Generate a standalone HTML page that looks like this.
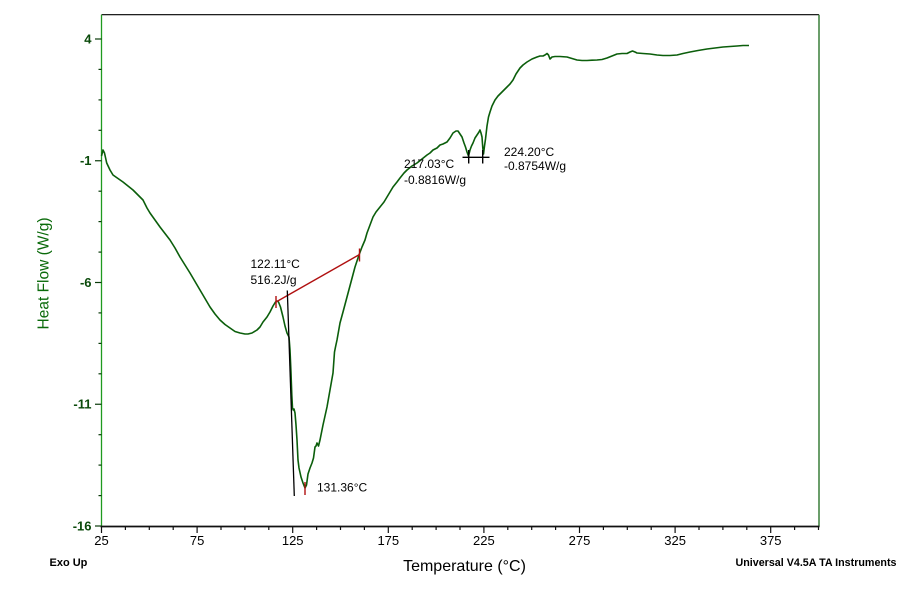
<!DOCTYPE html>
<html>
<head>
<meta charset="utf-8">
<style>
html,body{margin:0;padding:0;background:#fff;}
svg{display:block;}
text{font-family:"Liberation Sans",Arial,sans-serif;}
</style>
</head>
<body>
<svg width="904" height="594" viewBox="0 0 904 594" xmlns="http://www.w3.org/2000/svg">
<rect width="904" height="594" fill="#fff"/>
<!-- axes -->
<line x1="101.5" y1="14.7" x2="819" y2="14.7" stroke="#000" stroke-width="1.2"/>
<line x1="819" y1="14.7" x2="819" y2="526.5" stroke="#3a7f3a" stroke-width="1.5"/>
<line x1="101.5" y1="14.7" x2="101.5" y2="526.5" stroke="#1f9a1f" stroke-width="1.3"/>
<line x1="100.5" y1="526.5" x2="819.5" y2="526.5" stroke="#111" stroke-width="1.8"/>
<!-- y ticks -->
<g stroke="#0a3a0a" stroke-width="1.2">
<line x1="95" y1="39" x2="101.5" y2="39"/>
<line x1="95" y1="160.75" x2="101.5" y2="160.75"/>
<line x1="95" y1="282.5" x2="101.5" y2="282.5"/>
<line x1="95" y1="404.25" x2="101.5" y2="404.25"/>
<line x1="95" y1="526" x2="101.5" y2="526"/>
<line x1="98.5" y1="69.4" x2="101.5" y2="69.4"/>
<line x1="98.5" y1="99.9" x2="101.5" y2="99.9"/>
<line x1="98.5" y1="130.3" x2="101.5" y2="130.3"/>
<line x1="98.5" y1="191.2" x2="101.5" y2="191.2"/>
<line x1="98.5" y1="221.6" x2="101.5" y2="221.6"/>
<line x1="98.5" y1="252.1" x2="101.5" y2="252.1"/>
<line x1="98.5" y1="312.9" x2="101.5" y2="312.9"/>
<line x1="98.5" y1="343.4" x2="101.5" y2="343.4"/>
<line x1="98.5" y1="373.8" x2="101.5" y2="373.8"/>
<line x1="98.5" y1="434.7" x2="101.5" y2="434.7"/>
<line x1="98.5" y1="465.1" x2="101.5" y2="465.1"/>
<line x1="98.5" y1="495.6" x2="101.5" y2="495.6"/>
</g>
<!-- x ticks -->
<g stroke="#111" stroke-width="1.2">
<line x1="101.5" y1="526" x2="101.5" y2="533"/>
<line x1="197.1" y1="526" x2="197.1" y2="533"/>
<line x1="292.7" y1="526" x2="292.7" y2="533"/>
<line x1="388.3" y1="526" x2="388.3" y2="533"/>
<line x1="483.9" y1="526" x2="483.9" y2="533"/>
<line x1="579.5" y1="526" x2="579.5" y2="533"/>
<line x1="675.1" y1="526" x2="675.1" y2="533"/>
<line x1="770.7" y1="526" x2="770.7" y2="533"/>
<line x1="125.4" y1="526" x2="125.4" y2="530"/>
<line x1="149.3" y1="526" x2="149.3" y2="530"/>
<line x1="173.2" y1="526" x2="173.2" y2="530"/>
<line x1="221.0" y1="526" x2="221.0" y2="530"/>
<line x1="244.9" y1="526" x2="244.9" y2="530"/>
<line x1="268.8" y1="526" x2="268.8" y2="530"/>
<line x1="316.6" y1="526" x2="316.6" y2="530"/>
<line x1="340.5" y1="526" x2="340.5" y2="530"/>
<line x1="364.4" y1="526" x2="364.4" y2="530"/>
<line x1="412.2" y1="526" x2="412.2" y2="530"/>
<line x1="436.1" y1="526" x2="436.1" y2="530"/>
<line x1="460.0" y1="526" x2="460.0" y2="530"/>
<line x1="507.8" y1="526" x2="507.8" y2="530"/>
<line x1="531.7" y1="526" x2="531.7" y2="530"/>
<line x1="555.6" y1="526" x2="555.6" y2="530"/>
<line x1="603.4" y1="526" x2="603.4" y2="530"/>
<line x1="627.3" y1="526" x2="627.3" y2="530"/>
<line x1="651.2" y1="526" x2="651.2" y2="530"/>
<line x1="699.0" y1="526" x2="699.0" y2="530"/>
<line x1="722.9" y1="526" x2="722.9" y2="530"/>
<line x1="746.8" y1="526" x2="746.8" y2="530"/>
<line x1="794.6" y1="526" x2="794.6" y2="530"/>
<line x1="818.5" y1="526" x2="818.5" y2="530"/>
</g>
<!-- y tick labels -->
<g fill="#0a4a0a" font-size="13" text-anchor="end" font-weight="bold">
<text x="91.5" y="43.5">4</text>
<text x="91.5" y="165.2">-1</text>
<text x="91.5" y="287">-6</text>
<text x="91.5" y="408.7">-11</text>
<text x="91.5" y="530.5">-16</text>
</g>
<!-- x tick labels -->
<g fill="#000" font-size="13" text-anchor="middle">
<text x="101.5" y="545">25</text>
<text x="197.1" y="545">75</text>
<text x="292.7" y="545">125</text>
<text x="388.3" y="545">175</text>
<text x="483.9" y="545">225</text>
<text x="579.5" y="545">275</text>
<text x="675.1" y="545">325</text>
<text x="770.7" y="545">375</text>
</g>
<!-- axis titles -->
<text x="464.5" y="571" font-size="16" text-anchor="middle" fill="#000">Temperature (°C)</text>
<text transform="translate(48.5,273.5) rotate(-90)" font-size="15.5" text-anchor="middle" fill="#0a6a0a">Heat Flow (W/g)</text>
<text x="49.5" y="566" font-size="11" font-weight="bold" fill="#000">Exo Up</text>
<text x="735.5" y="566" font-size="11" font-weight="bold" fill="#000" textLength="161" lengthAdjust="spacingAndGlyphs">Universal V4.5A TA Instruments</text>
<!-- curve -->
<polyline fill="none" stroke="#0b5e0b" stroke-width="1.6" stroke-linejoin="round" points="
101.5,156 103,150 104.5,153 106.7,163 110,170 113,175 118,178.5 123,182 128,186 133,190 138,195 143,200 147,208 150,213 155,220 160,227 165,233.5 170,240 175,248 180,257 185,265 190,273 195,281.5 200,290 205,298.5 210,307 215,314 220,320 225,324.5 230,328 235,331.5 240,333 245,334 248,334 252,333 257,330 260,327 263,322 267,317 270,312 273,306 275.5,302 277,301 278.5,302 280.5,307 283,317 285,326 287,333 289,337 290,350 291,373 291.8,395 292.5,408 293.2,410 294,409 295,413 296,425 297,440 298,460 299,468 301,477 303,483 305,488 306.5,485 308,474 310,468 312,463 313.5,458 315,447 316,446 317,443 318.5,446 320,440 323,425 327,407 330,390 333,373 334.5,352 335.5,347 337,340 340,323 343,312 347,297 351,282 355,267 359,255 362,247 365,240 367,233 370,225 373,217 376,212 380,207 384,202 387,197 390,192 393,187 397,182 400,178 404,173 407,170 412,166 417,163 422,159 427,155 430,153 433,150 437,148 440,145 443,144 447,142 450,138 453,133 456,131 458,131 460,134 462,137 464,143 465.5,147 467,152 468.5,156 470,150 471.5,146 473,143 475,138 477,135 479,132 480,130 481,133 482,137 482.8,148 483.5,154 484.5,146 485.5,139 487,126 488.5,117 490,112 492,106 495,100 498,96 502,92 505,89 507,87 510,84 513,80 516,74 520,68 523,65 527,62 532,59 537,57 540,56 543,56 545,55 547,53.5 548.5,55 550,59 552,57 555,56.5 560,56.5 567,57 572,58.5 577,60 582,60.5 587,60.5 592,60.2 597,60 602,59.5 607,58 612,56 617,54 622,53.5 627,53.5 630,52 632.5,51 635,52 637,53 643,53.5 650,54 657,55 663,55.5 670,55.5 677,55 683,53.5 690,52 698,50.5 707,49 715,48 723,47 730,46.5 737,46 743,45.5 749,45.5"/>
<!-- annotations -->
<line x1="276" y1="302" x2="359.5" y2="254.5" stroke="#b01010" stroke-width="1.4"/>
<line x1="276" y1="296" x2="276" y2="308" stroke="#b01010" stroke-width="1.4"/>
<line x1="359.5" y1="248.5" x2="359.5" y2="261.5" stroke="#b01010" stroke-width="1.4"/>
<line x1="305" y1="482" x2="305" y2="495" stroke="#b01010" stroke-width="1.4"/>
<line x1="287.3" y1="290.5" x2="294.3" y2="496" stroke="#000" stroke-width="1.3"/>
<line x1="462.5" y1="157.3" x2="489.5" y2="157.3" stroke="#000" stroke-width="1.4"/>
<line x1="468.7" y1="150" x2="468.7" y2="163.5" stroke="#000" stroke-width="1.4"/>
<line x1="482.7" y1="150" x2="482.7" y2="163.5" stroke="#000" stroke-width="1.4"/>
<g fill="#000" font-size="12">
<text x="250.5" y="268">122.11°C</text>
<text x="250.5" y="284">516.2J/g</text>
<text x="317" y="491.5">131.36°C</text>
<text x="404" y="168">217.03°C</text>
<text x="404" y="184">-0.8816W/g</text>
<text x="504" y="156">224.20°C</text>
<text x="504" y="170">-0.8754W/g</text>
</g>
</svg>
</body>
</html>
